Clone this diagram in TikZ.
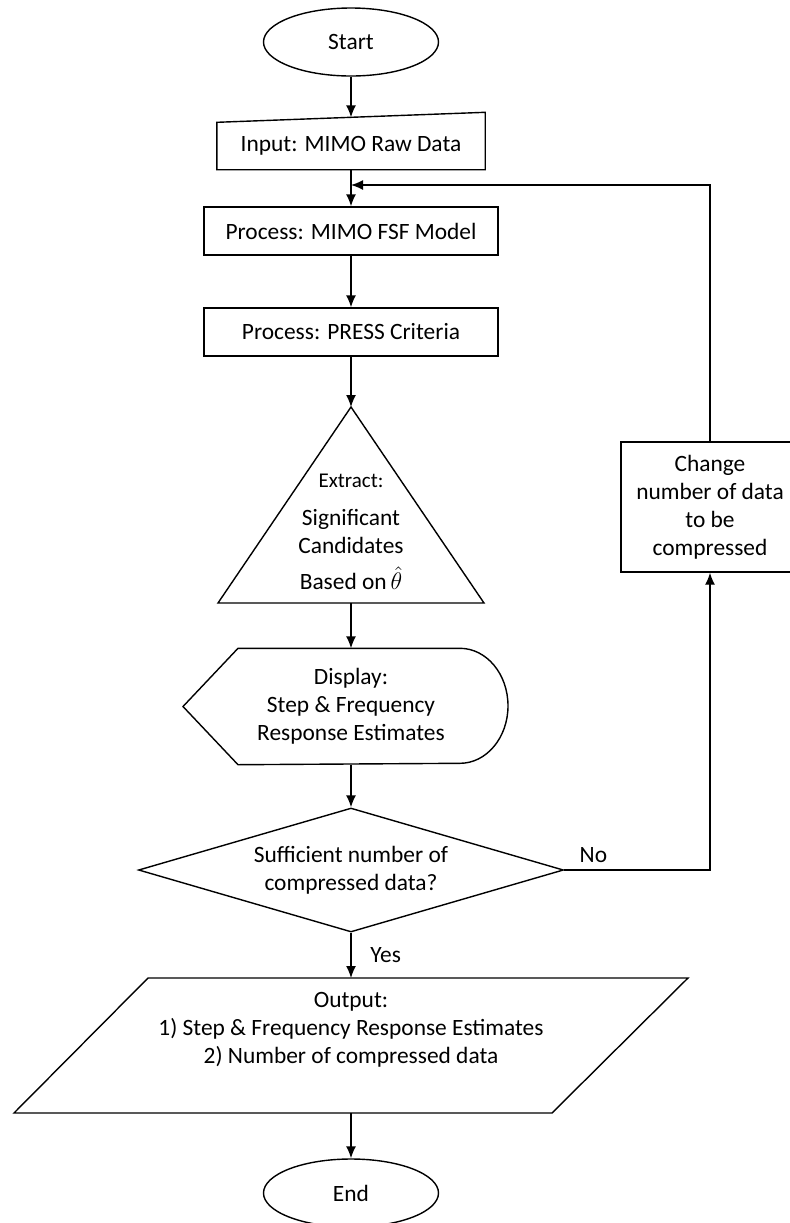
\documentclass[tikz,border=0pt]{standalone}
\usepackage{fontspec}
\setmainfont{Carlito}
\usetikzlibrary{arrows.meta,shapes.geometric}

\begin{document}
\begin{tikzpicture}[>={Latex[length=6pt,width=5pt]},x=0.5pt,y=-0.5pt,line width=0.7pt,
  every node/.style={font=\fontsize{11.7}{14}\selectfont},
  procbox/.style={draw,minimum width=147pt,minimum height=24pt,inner sep=0pt},
  terminal/.style={ellipse,draw,minimum width=87.5pt,minimum height=34pt}]
\useasboundingbox (0,0) rectangle (789,1223);
\node[terminal] (start) at (351,42) {Start};
\node[minimum width=133.5pt,minimum height=23pt,inner sep=0pt] (input) at (351,146) {Input: MIMO Raw Data};
\draw (input.south west) -- (input.south east) -- ([yshift=5pt]input.north east) -- coordinate (input in) (input.north west) -- cycle;
\node[procbox] (fsf) at (351,231) {Process: MIMO FSF Model};
\node[procbox] (press) at (351,332) {Process: PRESS Criteria};
\coordinate (tri top) at (351,407);
\coordinate (tri base) at (351,603);
\draw (tri top) -- ([xshift=66.5pt]tri base) -- ([xshift=-66.5pt]tri base) -- cycle;
\node[align=center] (extract) at (351,532) {{\fontsize{10.5}{14}\selectfont Extract:}\\[5pt] Significant\\Candidates\\[4pt] Based on\,$\hat{\theta}$};
\node[minimum height=57.5pt,inner sep=0pt,align=center] (display) at (351,706.5) {Display:\\Step \& Frequency\\Response Estimates};
\draw ([xshift=-84pt]display.center) -- ([xshift=-56.5pt]display.north) -- ([xshift=54.5pt]display.north) arc[start angle=90,end angle=-90,x radius=24pt,y radius=28.75pt] -- ([xshift=-56.5pt]display.south) -- cycle;
\node[diamond,draw,aspect=3.4,minimum width=212.5pt,minimum height=62pt,inner sep=0pt,align=center] (decide) at (351,870) {Sufficient number of\\compressed data?};
\node[draw,minimum width=89pt,minimum height=65pt,align=center] (change) at (710,507) {Change\\number of data\\to be\\compressed};
\coordinate (out top) at (351,978);
\coordinate (out bot) at (351,1113);
\draw ([xshift=-101.5pt]out top) -- ([xshift=168.5pt]out top) -- ([xshift=100.5pt]out bot) -- ([xshift=-168.5pt]out bot) -- cycle;
\node[align=center] (output) at (351,1030) {Output:\\1) Step \& Frequency Response Estimates\\2) Number of compressed data};
\node[terminal] (end) at (351,1193) {End};
\coordinate (join) at (351,185);
\draw[->] (start.south) -- (input in);
\draw[->] (input.south) -- (fsf.north);
\draw[->] (fsf.south) -- (press.north);
\draw[->] (press.south) -- (tri top);
\draw[->] (tri base) -- (display.north);
\draw[->] (display.south) -- (decide.north);
\draw[->] (decide.south) -- node[right,xshift=6pt] {Yes} (out top);
\draw[->] (decide.east) -| node[pos=0.1,above] {No} (change.south);
\draw[->] (change.north) |- (join);
\draw[->] (out bot) -- (end.north);
\end{tikzpicture}
\end{document}
